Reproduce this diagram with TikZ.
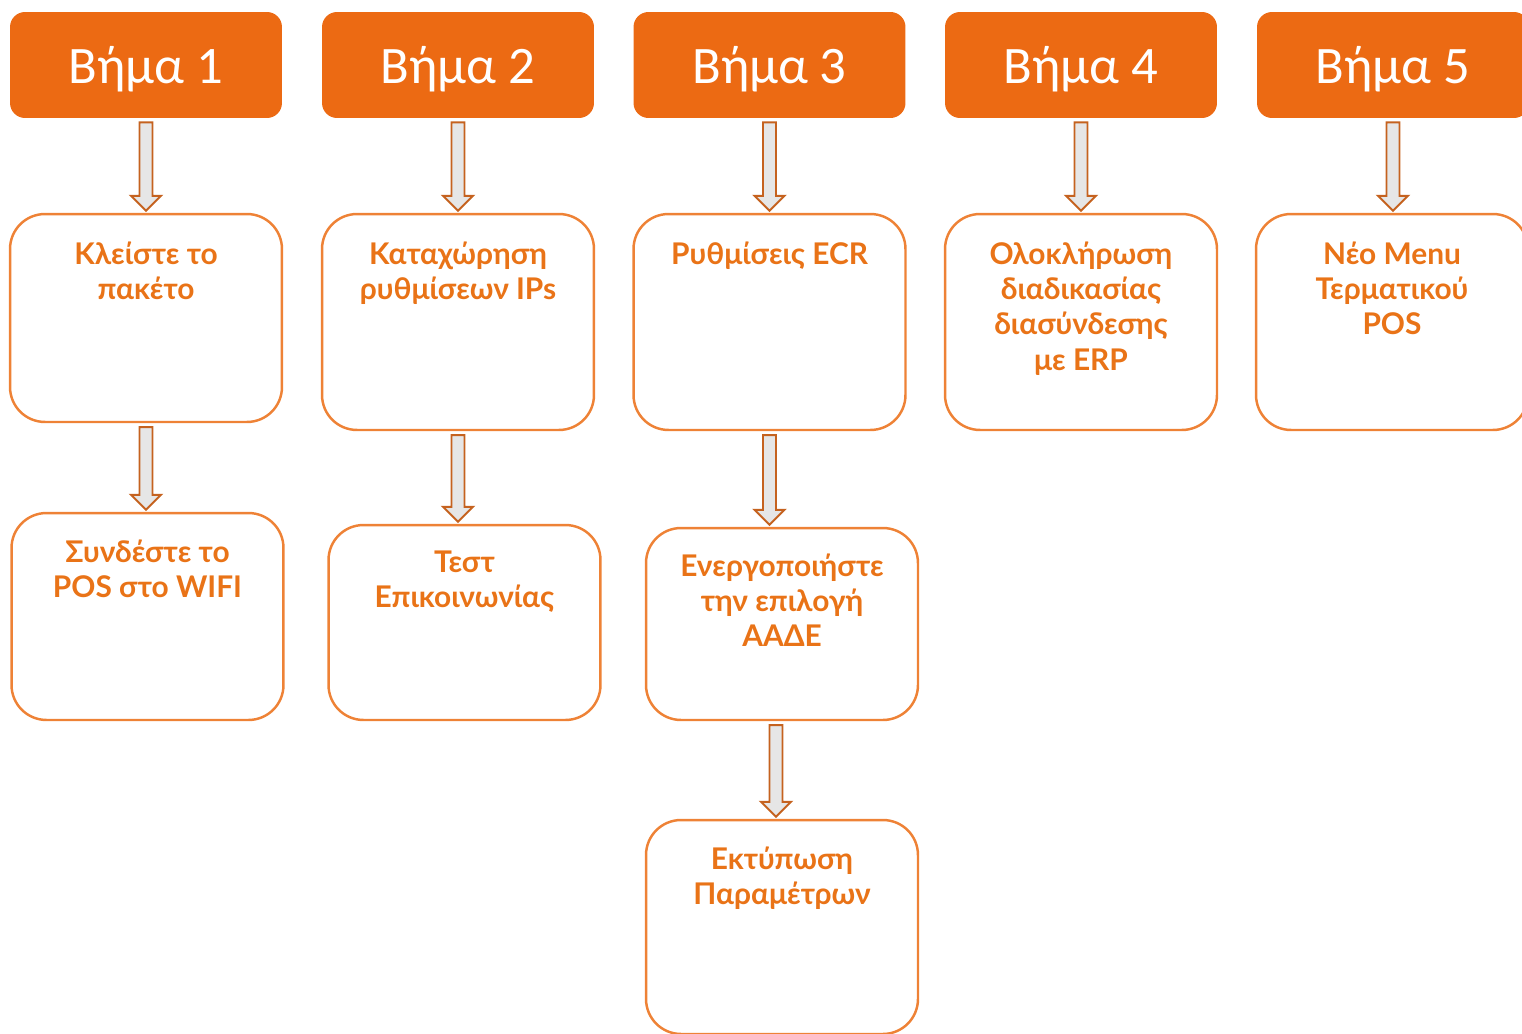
\documentclass[tikz,border=0pt]{standalone}
\usepackage{fontspec}
\usetikzlibrary{calc}

\newfontfamily\hdrfont{Carlito}
\newfontfamily\boxfont{Lato}

\definecolor{naranja}{HTML}{EC6A13}
\definecolor{borde}{HTML}{EE8236}
\definecolor{texto}{HTML}{E97317}
\definecolor{flechaborde}{HTML}{C5621F}
\definecolor{flechagris}{HTML}{E6E6E6}

\tikzset{
  paso/.style={fill=naranja, rounded corners=0.3cm, minimum width=5.44cm,
    minimum height=2.12cm, text=white, font=\hdrfont\fontsize{30}{36}\selectfont},
  caja/.style={draw=borde, line width=1.4pt, rounded corners=0.7cm,
    minimum width=5.44cm},
  txt/.style={anchor=north, inner sep=0pt, align=center, text=texto,
    font=\boxfont\bfseries\fontsize{17}{20}\selectfont},
  flechabloque/.style={draw=flechaborde, fill=flechagris, line width=1.1pt,
    line join=miter}
}

% flecha hueca de un nodo a otro (opcional: desplazamiento en x)
\newcommand\flecha[3][0]{%
  \draw[flechabloque] ($(#2.south)+(#1-6.5,4)$) -- ($(#2.south)+(#1+6.5,4)$)
    -- ($(#2.south|-#3.north)+(#1+6.5,-17)$) -- ($(#2.south|-#3.north)+(#1+15,-17)$)
    -- ($(#2.south|-#3.north)+(#1,-2)$) -- ($(#2.south|-#3.north)+(#1-15,-17)$)
    -- ($(#2.south|-#3.north)+(#1-6.5,-17)$) -- cycle;}

\begin{document}
\begin{tikzpicture}[x=0.02cm, y=-0.02cm]

    \useasboundingbox (0,0) rectangle (1522,1034);
    \clip (0,0) rectangle (1522,1034);

    % Cabeceras
    \foreach \i/\x in {1/146,2/458,3/769.5,4/1081,5/1393}
        \node[paso, text depth=-6pt] (h\i) at (\x,65) {Βήμα \i};

    % Primera fila
    \node[caja, minimum height=4.16cm] (b1) at (146,318) {};
    \node[caja, minimum height=4.32cm] (b2) at (458,322) {};
    \node[caja, minimum height=4.32cm] (b3) at (769.5,322) {};
    \node[caja, minimum height=4.32cm] (b4) at (1081,322) {};
    \node[caja, minimum height=4.32cm] (b5) at (1392,322) {};

    % Segunda fila
    \node[caja, minimum height=4.14cm] (c1) at (147.5,616.5) {};
    \node[caja, minimum height=3.90cm] (c2) at (464.5,622.5) {};
    \node[caja, minimum height=3.84cm] (c3) at (782,624) {};

    % Tercera fila
    \node[caja, minimum height=4.28cm] (d3) at (782,927) {};

    % Textos
    \node[txt] (tb1) at ($(b1.north)+(0,29)$) {Κλείστε το\\πακέτο};
    \node[txt] (tb2) at ($(b2.north)+(0,29)$) {Καταχώρηση\\ρυθμίσεων IPs};
    \node[txt] (tb3) at ($(b3.north)+(0,29)$) {Ρυθμίσεις ECR};
    \node[txt] (tb4) at ($(b4.north)+(0,29)$) {Ολοκλήρωση\\διαδικασίας\\διασύνδεσης\\με ERP};
    \node[txt] (tb5) at ($(b5.north)+(0,29)$) {Νέο Menu\\Τερματικού\\POS};
    \node[txt] (tc1) at ($(c1.north)+(0,28)$) {Συνδέστε το\\POS στο WIFI};
    \node[txt] (tc2) at ($(c2.north)+(0,27)$) {Τεστ\\Επικοινωνίας};
    \node[txt] (tc3) at ($(c3.north)+(0,27)$) {Ενεργοποιήστε\\την επιλογή\\ΑΑΔΕ};
    \node[txt] (td3) at ($(d3.north)+(0,28)$) {Εκτύπωση\\Παραμέτρων};

    % Flechas
    \flecha{h1}{b1}
    \flecha{h2}{b2}
    \flecha{h3}{b3}
    \flecha{h4}{b4}
    \flecha{h5}{b5}
    \flecha{b1}{c1}
    \flecha{b2}{c2}
    \flecha{b3}{c3}
    \flecha[-6]{c3}{d3}

\end{tikzpicture}
\end{document}
